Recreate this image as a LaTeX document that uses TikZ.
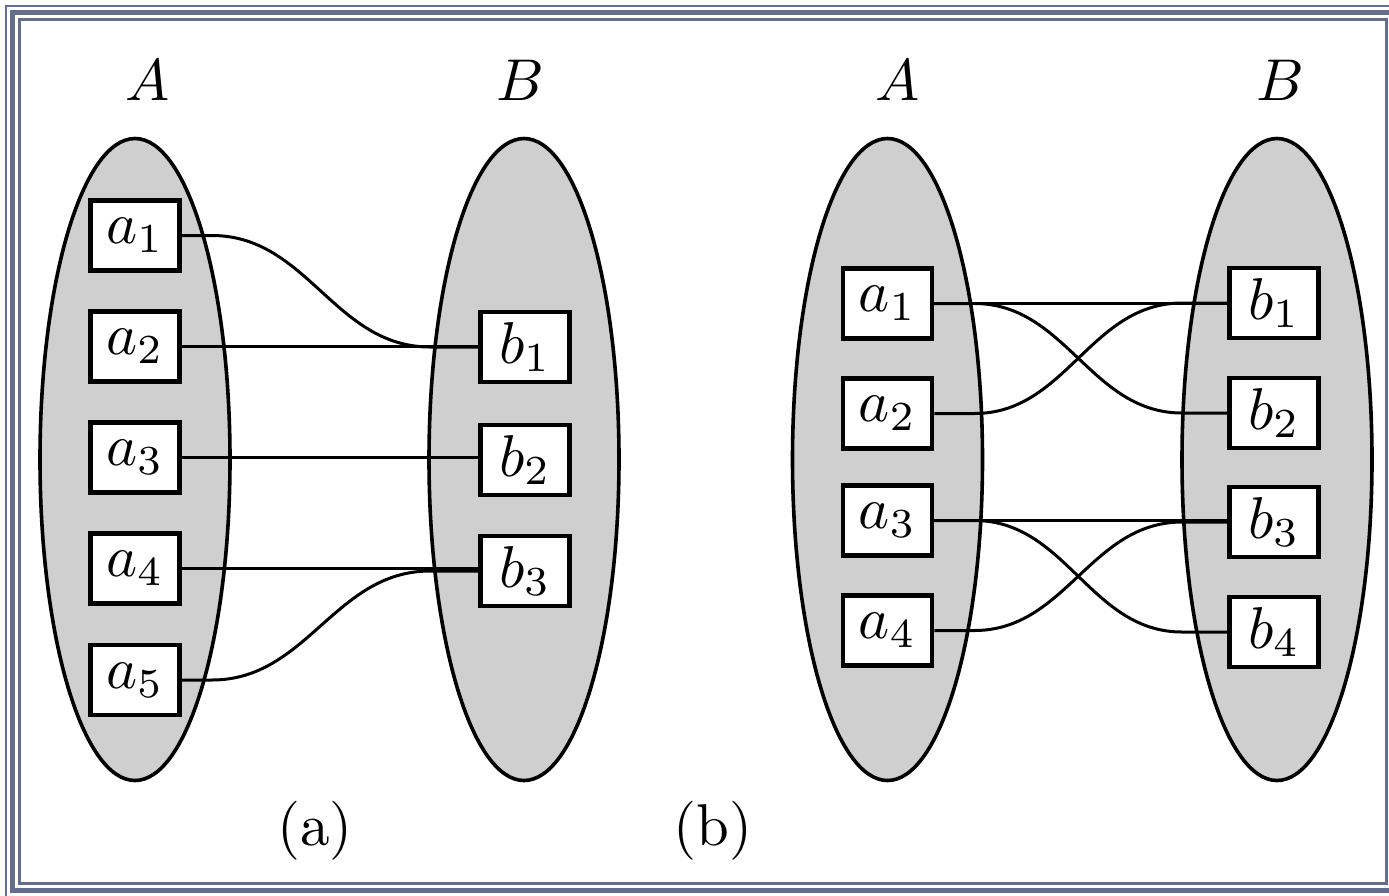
\documentclass[tikz,border=0pt]{standalone}
\usepackage{graphicx}
\usetikzlibrary{shapes.geometric}
\definecolor{framec}{RGB}{100,110,140}
\definecolor{ellc}{RGB}{207,207,207}
\newcommand{\bigtxt}[1]{\scalebox{5.9}{#1}}
\begin{document}
\begin{tikzpicture}[x=1pt,y=-1pt,
  setell/.style={ellipse, draw, line width=3.6pt, fill=ellc, minimum width=190pt, minimum height=642pt, inner sep=0pt},
  elem/.style={draw, line width=4.8pt, fill=white, minimum width=89pt, minimum height=70pt, inner sep=0pt},
  conn/.style={line width=3pt},
  lbl/.style={inner sep=0pt, anchor=base}]
\useasboundingbox (0,0) rectangle (1389,895);
% frame
\draw[framec, line width=2pt] (6,6) rectangle (1399,896.5);
\draw[framec, line width=5pt] (12.5,12.5) rectangle (1393,890);
\draw[framec, line width=3pt] (19.5,19.5) rectangle (1386,883.5);
% (a)
\node[setell] (EA1) at (135,459.5) {};
\node[setell] (EB1) at (524,459.5) {};
\node[elem] (pa1) at (135,235.5) {\bigtxt{$a_1$}};
\node[elem] (pa2) at (135,346.5) {\bigtxt{$a_2$}};
\node[elem] (pa3) at (135,457.5) {\bigtxt{$a_3$}};
\node[elem] (pa4) at (135,568.5) {\bigtxt{$a_4$}};
\node[elem] (pa5) at (135,680) {\bigtxt{$a_5$}};
\node[elem] (pb1) at (525,347) {\bigtxt{$b_1$}};
\node[elem] (pb2) at (525,460) {\bigtxt{$b_2$}};
\node[elem] (pb3) at (525,571) {\bigtxt{$b_3$}};
\draw[conn] (pa1.east) -- ++(30,0) to[out=0,in=180] ([xshift=-48pt]pb1.west) -- (pb1.west);
\draw[conn] (pa2.east) -- (pa2.east -| pb1.west);
\draw[conn] (pa3.east) -- (pa3.east -| pb2.west);
\draw[conn] (pa4.east) -- (pa4.east -| pb3.west);
\draw[conn] (pa5.east) -- ++(30,0) to[out=0,in=180] ([xshift=-48pt]pb3.west) -- (pb3.west);
\node[lbl] (LA1) at (148,100) {\bigtxt{$A$}};
\node[lbl] (LB1) at (520,100) {\bigtxt{$B$}};
\node[lbl] (Lcapa) at (315,845) {\bigtxt{(a)}};
% (b)
\node[setell] (EA2) at (887.5,459.5) {};
\node[setell] (EB2) at (1277,459.5) {};
\node[elem] (qa1) at (887.5,303.5) {\bigtxt{$a_1$}};
\node[elem] (qa2) at (887.5,413.5) {\bigtxt{$a_2$}};
\node[elem] (qa3) at (887.5,520.5) {\bigtxt{$a_3$}};
\node[elem] (qa4) at (887.5,630.5) {\bigtxt{$a_4$}};
\node[elem] (qb1) at (1274,303) {\bigtxt{$b_1$}};
\node[elem] (qb2) at (1274,413) {\bigtxt{$b_2$}};
\node[elem] (qb3) at (1274,522) {\bigtxt{$b_3$}};
\node[elem] (qb4) at (1274,632) {\bigtxt{$b_4$}};
\draw[conn] (qa1.east) -- (qa1.east -| qb1.west);
\draw[conn] (qa1.east) -- ++(40,0) to[out=0,in=180] ([xshift=-45pt]qb2.west) -- (qb2.west);
\draw[conn] (qa2.east) -- ++(40,0) to[out=0,in=180] ([xshift=-45pt]qb1.west) -- (qb1.west);
\draw[conn] (qa3.east) -- (qa3.east -| qb3.west);
\draw[conn] (qa3.east) -- ++(40,0) to[out=0,in=180] ([xshift=-45pt]qb4.west) -- (qb4.west);
\draw[conn] (qa4.east) -- ++(40,0) to[out=0,in=180] ([xshift=-45pt]qb3.west) -- (qb3.west);
\node[lbl] (LA2) at (898,100) {\bigtxt{$A$}};
\node[lbl] (LB2) at (1280,100) {\bigtxt{$B$}};
\node[lbl] (Lcapb) at (713,845) {\bigtxt{(b)}};
\end{tikzpicture}
\end{document}
